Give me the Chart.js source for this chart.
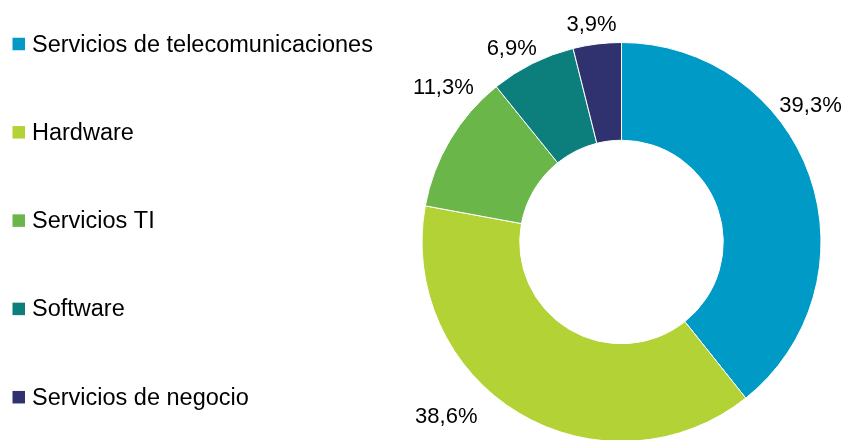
<!DOCTYPE html>
<html>
<head>
<meta charset="utf-8">
<script src="https://cdn.jsdelivr.net/npm/chart.js@4/dist/chart.umd.min.js"></script>
<style>
  html, body { margin: 0; padding: 0; background: #fff; overflow: hidden; }
  #wrap { width: 849px; height: 440px; overflow: hidden; position: relative; }
  canvas { display: block; }
</style>
</head>
<body>
<div id="wrap"><canvas id="c" width="849" height="484"></canvas></div>
<script>
// ---- data ----
const categories = [
  'Servicios de telecomunicaciones',
  'Hardware',
  'Servicios TI',
  'Software',
  'Servicios de negocio'
];
const shares = [39.3, 38.6, 11.3, 6.9, 3.9];

// ---- styles ----
const sliceColors = ['#009AC7', '#B3D235', '#6AB648', '#0C7F7C', '#2F326E'];
// label offsets (px) from the outer edge point at each slice's mid angle
const labelOffsets = [[0.7, -70], [-72.6, 3.5], [-6.7, -51.6], [-20.9, -14], [-5.6, -19.5]];
const FONT = '"Liberation Sans", Arial, Helvetica, sans-serif';

const fmt = v => v.toFixed(1).replace('.', ',') + '%';

const labelPlugin = {
  id: 'sliceLabels',
  afterDatasetsDraw(chart) {
    const ctx = chart.ctx;
    const meta = chart.getDatasetMeta(0);
    ctx.save();
    ctx.font = '22px ' + FONT;
    ctx.fillStyle = '#000';
    ctx.textAlign = 'center';
    ctx.textBaseline = 'middle';
    meta.data.forEach((arc, i) => {
      const p = arc.getProps(['x', 'y', 'startAngle', 'endAngle', 'outerRadius'], true);
      const mid = (p.startAngle + p.endAngle) / 2;
      const ax = p.x + Math.cos(mid) * p.outerRadius;
      const ay = p.y + Math.sin(mid) * p.outerRadius;
      const off = labelOffsets[i];
      ctx.fillText(fmt(chart.data.datasets[0].data[i]), ax + off[0], ay + off[1]);
    });
    ctx.restore();
  }
};

const legendPlugin = {
  id: 'leftLegend',
  afterDraw(chart) {
    const ctx = chart.ctx;
    const ds = chart.data.datasets[0];
    const top = 44, step = 88.3, boxX = 12.5, box = 12.5, textX = 32;
    ctx.save();
    ctx.font = '23.5px ' + FONT;
    ctx.textAlign = 'left';
    ctx.textBaseline = 'alphabetic';
    chart.data.labels.forEach((lab, i) => {
      const cy = top + i * step;
      ctx.fillStyle = ds.backgroundColor[i];
      ctx.fillRect(boxX, cy - box / 2, box, box);
      ctx.fillStyle = '#000';
      ctx.fillText(lab, textX, cy + 7.5);
    });
    ctx.restore();
  }
};

new Chart(document.getElementById('c'), {
  type: 'doughnut',
  data: {
    labels: categories,
    datasets: [{
      data: shares,
      backgroundColor: sliceColors,
      borderColor: '#ffffff',
      borderWidth: 1
    }]
  },
  options: {
    responsive: false,
    devicePixelRatio: 1,
    animation: false,
    cutout: '51%',
    rotation: 0,
    layout: { padding: { left: 421.5, right: 27.5, top: 41.5, bottom: 41.5 } },
    plugins: {
      legend: { display: false },
      tooltip: { enabled: false },
      title: { display: false }
    }
  },
  plugins: [labelPlugin, legendPlugin]
});
</script>
</body>
</html>
